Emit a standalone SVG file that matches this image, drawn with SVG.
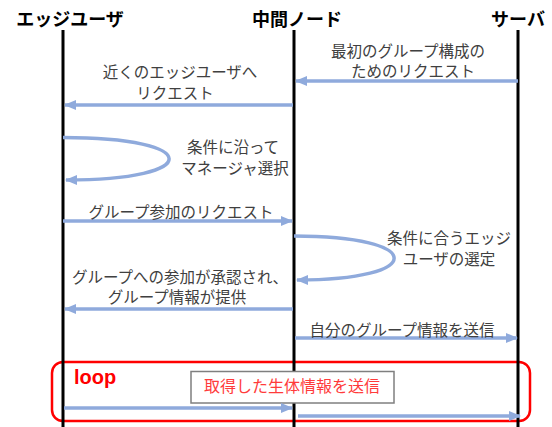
<svg xmlns="http://www.w3.org/2000/svg" width="552" height="427" viewBox="0 0 552 427">
<style>
.hdr{font-family:"Noto Sans CJK JP","Noto Sans",sans-serif;font-size:18px;font-weight:bold;fill:#000;text-anchor:middle}
.lbl{font-family:"Noto Sans CJK JP","Noto Sans",sans-serif;font-size:15.5px;fill:#404040;text-anchor:middle}
.life{stroke:#000;stroke-width:3;fill:none}
.msg{stroke:#8FAADC;stroke-width:3.5;fill:none;marker-end:url(#ah)}
</style>
<defs>
<marker id="ah" markerUnits="userSpaceOnUse" markerWidth="12" markerHeight="12" viewBox="0 0 12 12" refX="11" refY="6" orient="auto">
<polygon points="0,1 12,6 0,11" fill="#8FAADC"/>
</marker>
</defs>
<rect width="552" height="427" fill="#fff"/>
<g id="loop-frame">
<rect x="52" y="362" width="478" height="59" rx="11" fill="none" stroke="#FF0000" stroke-width="2.5"/>
<text x="74" y="384" font-family="'Liberation Sans',Arial,sans-serif" font-size="20" font-weight="bold" fill="#FF0000">loop</text>
</g>
<g id="edge-user">
<text class="hdr" x="70" y="26">エッジユーザ</text>
<line class="life" x1="63" y1="30" x2="63" y2="427"/>
</g>
<g id="middle-node">
<text class="hdr" x="297" y="26">中間ノード</text>
<line class="life" x1="294" y1="30" x2="294" y2="427"/>
</g>
<g id="server">
<text class="hdr" x="518" y="26">サーバ</text>
<line class="life" x1="518" y1="30" x2="518" y2="427"/>
</g>
<g id="loop-note">
<rect x="191" y="371.5" width="203" height="31.5" fill="#fff" stroke="#7F7F7F" stroke-width="1.5"/>
<text x="292" y="392" font-family="'Noto Sans CJK JP',sans-serif" font-size="16" fill="#FF3B3B" text-anchor="middle">取得した生体情報を送信</text>
</g>
<g id="connectors">
<line class="msg" x1="518" y1="81" x2="296" y2="81"/>
<line class="msg" x1="293" y1="105" x2="65" y2="105"/>
<path class="msg" d="M63,137.5 C204,137.5 204,180 66,180"/>
<line class="msg" x1="63" y1="221" x2="292" y2="221"/>
<path class="msg" d="M294,236 C427,236 427,280 297,280"/>
<line class="msg" x1="293" y1="309" x2="65" y2="309"/>
<line class="msg" x1="295" y1="338" x2="517" y2="338"/>
<line class="msg" x1="64" y1="408" x2="292" y2="408"/>
<line class="msg" x1="298" y1="416" x2="520" y2="416"/>
</g>
<g id="labels">
<text class="lbl" x="408" y="57">最初のグループ構成の</text>
<text class="lbl" x="413" y="77">ためのリクエスト</text>
<text class="lbl" x="180" y="78">近くのエッジユーザへ</text>
<text class="lbl" x="175" y="99">リクエスト</text>
<text class="lbl" x="233" y="153">条件に沿って</text>
<text class="lbl" x="235" y="174">マネージャ選択</text>
<text class="lbl" x="181" y="218">グループ参加のリクエスト</text>
<text class="lbl" x="449" y="244">条件に合うエッジ</text>
<text class="lbl" x="449" y="265">ユーザの選定</text>
<text class="lbl" x="180" y="283">グループへの参加が承認され、</text>
<text class="lbl" x="177" y="303">グループ情報が提供</text>
<text class="lbl" x="402" y="336">自分のグループ情報を送信</text>
</g>
</svg>
